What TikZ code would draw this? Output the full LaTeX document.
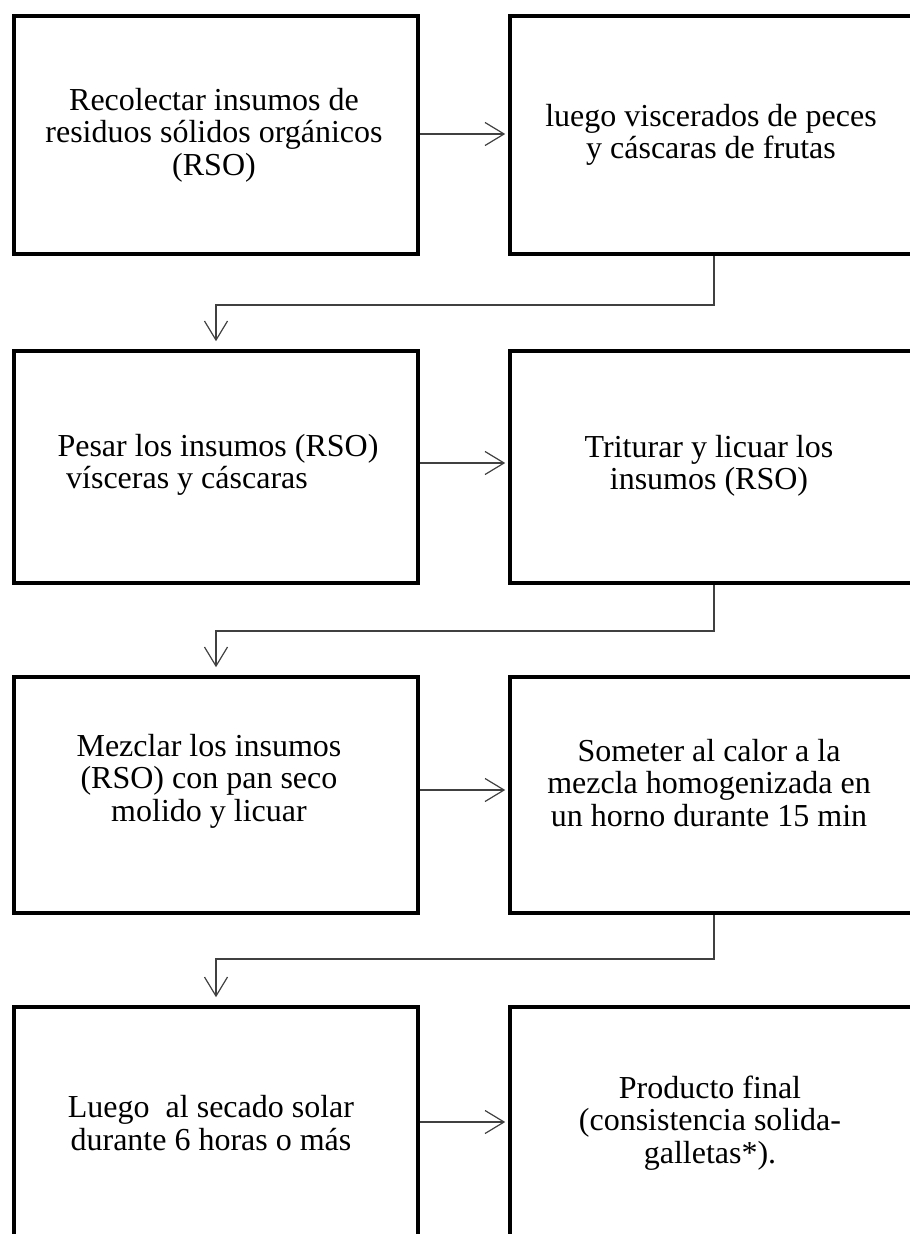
\documentclass[tikz,border=0pt]{standalone}
\usepackage{fontspec}
\setmainfont{Liberation Serif}
\usetikzlibrary{arrows.meta}
\begin{document}
\begin{tikzpicture}[x=1pt,y=-1pt,
  boxl/.style={draw=black,line width=3.6pt,minimum width=404pt,minimum height=#1,inner sep=0pt},
  boxr/.style={draw=black,line width=3.6pt,minimum width=408pt,minimum height=#1,inner sep=0pt},
  txt/.style={align=center,font=\fontsize{32}{32.5}\selectfont,inner sep=0pt},
  conn/.style={draw=black!75,line width=1.2pt,-{Straight Barb[length=19pt,width=23pt]}}]
\useasboundingbox (0,0) rectangle (910,1234);
\clip (0,0) rectangle (910,1234);
% boxes
\node[boxl=238pt] (b1) at (216,135) {};
\node[boxr=238pt] (b2) at (714,135) {};
\node[boxl=232pt] (b3) at (216,467) {};
\node[boxr=232pt] (b4) at (714,467) {};
\node[boxl=236pt] (b5) at (216,795) {};
\node[boxr=236pt] (b6) at (714,795) {};
\node[boxl=400pt] (b7) at (216,1207) {};
\node[boxr=400pt] (b8) at (714,1207) {};
% texts
\node[txt] (t1) at (214,135) {Recolectar insumos de\\residuos sólidos orgánicos\\(RSO)};
\node[txt] (t2) at (711,135) {luego viscerados de peces\\y cáscaras de frutas};
\node[txt] (t3) at (218,465) {Pesar los insumos (RSO)\\vísceras y cáscaras\hspace*{62pt}};
\node[txt] (t4) at (709,466) {Triturar y licuar los\\insumos (RSO)};
\node[txt] (t5) at (209,781) {Mezclar los insumos\\(RSO) con pan seco\\molido y licuar};
\node[txt] (t6) at (709,783) {Someter al calor a la\\mezcla homogenizada en\\un horno durante 15 min};
\node[txt] (t7) at (211,1123) {Luego\ \ al secado solar\\durante 6 horas o más};
\node[txt] (t8) at (710,1123) {Producto final\\(consistencia solida-\\galletas*).};
% horizontal connectors
\draw[conn,shorten >=3pt] (b1.east |- 0,134) coordinate (a1) -- (a1 -| b2.west);
\draw[conn,shorten >=3pt] (b3.east |- 0,463) coordinate (a3) -- (a3 -| b4.west);
\draw[conn,shorten >=3pt] (b5.east |- 0,790) coordinate (a5) -- (a5 -| b6.west);
\draw[conn,shorten >=3pt] (b7.east |- 0,1122) coordinate (a7) -- (a7 -| b8.west);
% elbow connectors
\draw[conn,shorten >=8pt] (b2.south) |- (0,305 -| b3.north) -- (b3.north);
\draw[conn,shorten >=8pt] (b4.south) |- (0,631 -| b5.north) -- (b5.north);
\draw[conn,shorten >=8pt] (b6.south) |- (0,959 -| b7.north) -- (b7.north);
\end{tikzpicture}
\end{document}
